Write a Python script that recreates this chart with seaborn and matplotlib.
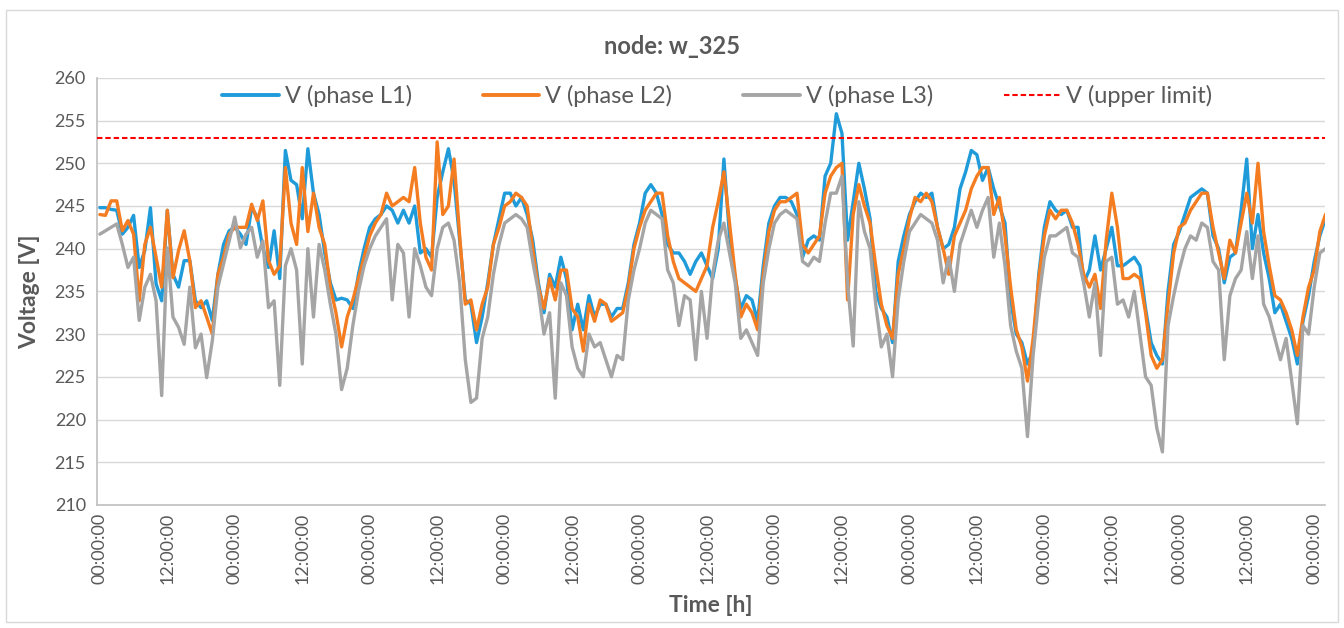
import pandas as pd
import seaborn as sns
import matplotlib.pyplot as plt
import matplotlib.dates as mdates
from matplotlib.lines import Line2D
from matplotlib.patches import Rectangle

# hourly voltage readings for node w_325, 9 days (one row = 12 hours)
v_l1 = [
    244.8, 244.8, 244.6, 244.5, 241.7, 242.5, 243.9, 237.8, 239.8, 244.8, 235.9, 233.9,
    244.5, 237.0, 235.5, 238.6, 238.6, 233.9, 233.1, 233.9, 231.6, 237.0, 240.5, 242.1,
    242.5, 241.7, 240.5, 244.8, 243.7, 240.1, 237.8, 242.1, 236.5, 251.5, 248.0, 247.5,
    243.5, 251.7, 246.5, 244.0, 239.5, 236.0, 234.0, 234.2, 234.0, 233.0, 237.0, 240.0,
    242.5, 243.5, 244.0, 245.0, 244.5, 243.0, 244.5, 243.0, 245.0, 239.5, 240.0, 239.0,
    246.0, 249.0, 251.7, 248.0, 241.0, 234.0, 233.5, 229.0, 232.0, 236.0, 240.5, 243.5,
    246.5, 246.5, 245.0, 246.0, 244.0, 241.0, 236.0, 232.5, 237.0, 235.5, 239.0, 236.5,
    230.5, 233.5, 230.5, 234.5, 232.0, 233.5, 233.5, 232.0, 233.0, 233.0, 236.0, 240.5,
    243.0, 246.5, 247.5, 246.5, 244.0, 240.5, 239.5, 239.5, 238.5, 237.0, 238.5, 239.5,
    238.0, 236.5, 240.0, 250.5, 241.5, 236.5, 233.0, 234.5, 234.0, 231.5, 238.0, 243.0,
    245.0, 246.0, 246.0, 245.5, 244.0, 239.0, 241.0, 241.5, 241.0, 248.5, 250.0, 255.8,
    253.5, 241.0, 245.5, 250.0, 247.0, 243.5, 235.0, 233.0, 232.0, 229.0, 238.5, 241.5,
    244.0, 245.5, 246.5, 246.0, 246.5, 242.5, 240.0, 240.5, 242.5, 247.0, 249.0, 251.5,
    251.0, 248.0, 249.5, 247.0, 245.0, 243.0, 234.0, 230.0, 229.0, 226.5, 228.0, 237.0,
    242.5, 245.5, 244.5, 244.0, 244.5, 242.5, 242.5, 236.0, 237.5, 241.5, 237.5, 240.0,
    242.5, 238.0, 238.0, 238.5, 239.0, 238.0, 233.0, 229.0, 227.5, 226.5, 235.0, 240.5,
    242.0, 244.0, 246.0, 246.5, 247.0, 246.5, 241.5, 240.0, 236.0, 239.0, 239.5, 244.5,
    250.5, 240.0, 244.0, 239.5, 236.5, 232.5, 233.5, 231.5, 229.5, 226.5, 231.5, 234.5,
    238.5, 241.5, 243.5,
]

v_l2 = [
    244.0, 243.9, 245.6, 245.6, 242.1, 243.3, 241.7, 233.9, 240.5, 242.5, 239.0, 235.5,
    244.5, 236.6, 239.8, 242.1, 238.6, 233.1, 233.9, 232.0, 230.0, 237.0, 239.0, 241.7,
    242.5, 242.5, 242.5, 245.2, 243.3, 245.6, 238.6, 237.0, 238.0, 249.5, 243.0, 240.5,
    249.5, 242.0, 246.5, 242.5, 240.5, 235.5, 232.5, 228.5, 232.0, 234.0, 236.5, 239.0,
    241.5, 243.0, 244.0, 246.5, 245.0, 245.5, 246.0, 245.5, 249.5, 243.0, 239.0, 237.5,
    252.5, 244.0, 245.0, 250.5, 241.5, 233.5, 234.0, 230.5, 233.5, 235.5, 240.5, 242.5,
    245.0, 245.5, 246.5, 246.0, 245.0, 240.0, 235.5, 233.0, 236.5, 234.0, 237.5, 237.5,
    233.0, 232.0, 228.0, 233.5, 231.5, 234.0, 233.5, 231.5, 232.0, 232.5, 235.5, 240.0,
    242.5, 244.5, 245.5, 246.5, 246.5, 241.5, 238.5, 236.5, 236.0, 235.5, 235.0, 236.5,
    238.0, 242.5, 245.5, 249.0, 243.0, 237.0, 232.0, 233.5, 232.5, 230.5, 237.0, 242.0,
    244.5, 245.5, 245.5, 246.0, 246.5, 240.5, 239.5, 240.5, 241.5, 246.5, 248.5, 249.5,
    250.0, 234.0, 244.0, 247.5, 245.0, 243.0, 238.0, 233.5, 231.0, 229.5, 237.0, 240.0,
    243.5, 246.0, 245.5, 246.5, 245.5, 242.5, 240.0, 237.0, 241.5, 243.0, 244.5, 247.0,
    248.5, 249.5, 249.5, 244.0, 246.0, 241.5, 235.5, 230.5, 228.5, 224.5, 229.5, 236.5,
    241.5, 244.5, 243.5, 244.5, 244.5, 243.0, 240.5, 237.0, 235.5, 237.0, 233.0, 241.0,
    246.5, 242.5, 236.5, 236.5, 237.0, 236.5, 232.5, 227.5, 226.0, 227.0, 233.5, 239.5,
    242.5, 243.0, 244.5, 245.5, 246.5, 246.5, 242.5, 239.5, 236.5, 241.0, 239.5, 243.0,
    246.5, 243.0, 250.0, 242.0, 238.0, 234.5, 234.0, 232.5, 230.5, 227.5, 232.0, 235.5,
    237.5, 242.0, 244.0,
]

v_l3 = [
    241.7, 242.1, 242.5, 242.9, 240.5, 237.8, 239.0, 231.6, 235.5, 237.0, 233.9, 222.8,
    240.1, 232.0, 230.8, 228.8, 235.5, 228.4, 230.0, 224.9, 229.2, 235.5, 238.2, 240.9,
    243.7, 240.1, 241.7, 242.5, 239.0, 240.9, 233.1, 233.9, 224.0, 238.0, 240.0, 237.5,
    226.5, 240.0, 232.0, 240.5, 237.5, 233.5, 230.0, 223.5, 226.0, 231.0, 235.0, 238.0,
    240.0, 241.5, 242.5, 243.5, 234.0, 240.5, 239.5, 232.0, 240.0, 238.0, 235.5, 234.5,
    240.0, 242.5, 243.0, 241.0, 236.0, 227.0, 222.0, 222.5, 229.5, 232.0, 237.0, 240.5,
    243.0, 243.5, 244.0, 243.5, 242.5, 238.5, 235.0, 230.0, 232.5, 222.5, 236.0, 234.5,
    228.5, 226.0, 225.0, 230.0, 228.5, 229.0, 227.0, 225.0, 227.5, 227.0, 234.0, 237.5,
    240.0, 243.0, 244.5, 244.0, 243.5, 237.5, 236.0, 231.0, 234.5, 234.0, 227.0, 235.0,
    229.5, 237.0, 241.0, 243.0, 239.5, 236.0, 229.5, 230.5, 229.0, 227.5, 236.0, 240.0,
    243.0, 244.0, 244.5, 244.0, 243.5, 238.5, 238.0, 239.0, 238.5, 243.0, 246.5, 246.5,
    248.5, 236.0, 228.6, 245.5, 242.0, 240.0, 233.5, 228.5, 230.0, 225.0, 234.0, 238.5,
    242.0, 243.0, 244.0, 243.5, 243.0, 241.0, 236.0, 239.0, 235.0, 240.5, 242.5, 244.5,
    242.5, 244.5, 246.0, 239.0, 243.0, 238.0, 231.0, 228.0, 226.0, 218.0, 227.5, 234.0,
    239.0, 241.5, 241.5, 242.0, 242.5, 239.5, 239.0, 236.0, 232.0, 236.0, 227.5, 238.5,
    239.0, 233.5, 234.0, 232.0, 235.0, 230.0, 225.0, 224.0, 219.0, 216.2, 231.0, 234.5,
    237.5, 240.0, 241.5, 241.0, 243.0, 242.5, 238.5, 237.5, 227.0, 234.5, 236.5, 237.5,
    242.0, 236.5, 241.5, 233.5, 232.0, 229.5, 227.0, 229.5, 224.5, 219.5, 231.0, 230.0,
    235.5, 239.5, 240.0,
]

upper_limit = 253.0

series_names = ["V (phase L1)", "V (phase L2)", "V (phase L3)"]
series_colors = ["#1F9BDA", "#F47D22", "#A5A5A5"]
limit_name = "V (upper limit)"
text_col = "#595959"

times = pd.date_range("2019-07-01 00:00", periods=len(v_l1), freq="h")
df = pd.DataFrame({"time": times,
                   series_names[0]: v_l1,
                   series_names[1]: v_l2,
                   series_names[2]: v_l3})
long_df = df.melt(id_vars="time", var_name="phase", value_name="voltage")

sns.set_theme(style="white")
plt.rcParams["font.family"] = ["Lato", "DejaVu Sans"]

fig = plt.figure(figsize=(13.44, 6.28), dpi=100)
ax = fig.add_axes([0.0722, 0.196, 0.914, 0.680])

sns.lineplot(data=long_df, x="time", y="voltage", hue="phase",
             hue_order=series_names, palette=series_colors,
             linewidth=2.4, legend=False, ax=ax)
ax.axhline(upper_limit, color="#FF0000", linewidth=1.5,
           linestyle=(0, (2.6, 1.4)), zorder=5)

# axes look (Excel style)
ax.set_ylim(210, 260)
ax.set_yticks(range(210, 261, 5))
ax.set_xlim(times[0] - pd.Timedelta(minutes=30), times[-1])
ax.xaxis.set_major_locator(mdates.HourLocator(byhour=[0, 12]))
ax.xaxis.set_major_formatter(mdates.DateFormatter("%H:%M:%S"))
ax.grid(axis="y", color="#D9D9D9", linewidth=1.0)
ax.set_axisbelow(True)
for side in ["top", "right"]:
    ax.spines[side].set_visible(False)
for side in ["left", "bottom"]:
    ax.spines[side].set_color("#BFBFBF")
    ax.spines[side].set_linewidth(1.2)
ax.tick_params(axis="both", length=0, labelsize=13, labelcolor=text_col)
ax.tick_params(axis="x", labelrotation=90, pad=6)
ax.tick_params(axis="y", pad=8)
ax.set_xlabel("")
ax.set_ylabel("")

handles = [Line2D([], [], color=c, linewidth=2.8) for c in series_colors]
handles.append(Line2D([], [], color="#FF0000", linewidth=1.5, linestyle=(0, (2.6, 1.4))))
leg = ax.legend(handles, series_names + [limit_name], ncol=4, frameon=False,
                loc="center", bbox_to_anchor=(0.505, 0.958), fontsize=17,
                handlelength=2.4, handletextpad=0.25, columnspacing=3.0)
for t in leg.get_texts():
    t.set_color(text_col)

fig.text(0.5, 1 - 47 / 628, "node: w_325", ha="center", va="center",
         fontsize=17, fontweight="bold", color=text_col)
fig.text(30 / 1344, 0.536, "Voltage [V]", ha="center", va="center",
         rotation=90, fontsize=16.5, fontweight="bold", color=text_col)
fig.text(0.0722 + 0.914 / 2, 1 - 605 / 628, "Time [h]", ha="center", va="center",
         fontsize=16.5, fontweight="bold", color=text_col)

fig.patches.append(Rectangle((6 / 1344, 0.0096), 1332 / 1344, 0.9745,
                             transform=fig.transFigure, fill=False,
                             edgecolor="#D9D9D9", linewidth=1.0))

fig.savefig("out.png", dpi=100)
